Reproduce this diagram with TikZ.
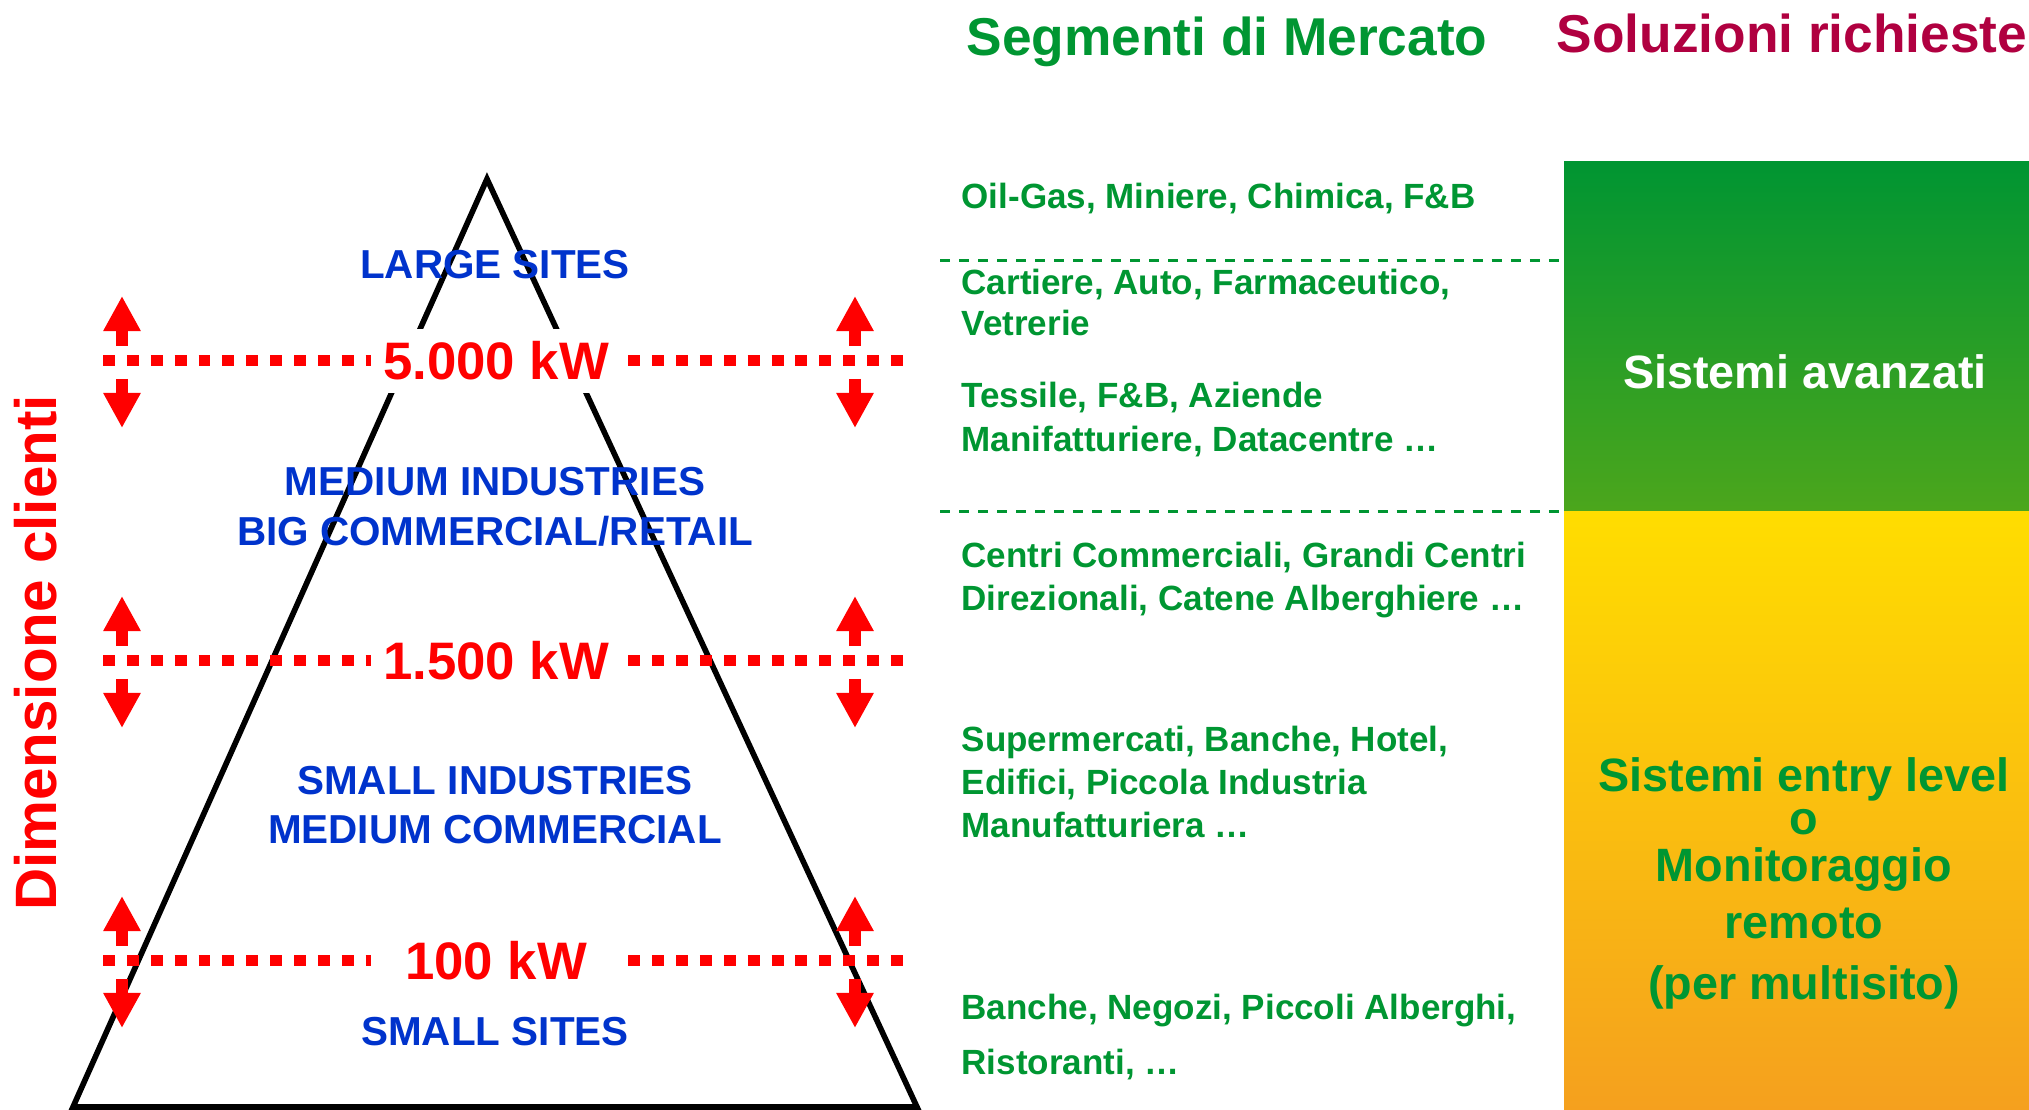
\documentclass[tikz,border=0pt]{standalone}
\usepackage{fontspec}
\setmainfont{Liberation Sans}
\usetikzlibrary{arrows.meta}
\definecolor{tgreen}{RGB}{0,150,50}
\definecolor{tblue}{RGB}{0,51,204}
\definecolor{tred}{RGB}{255,0,0}
\definecolor{tcrim}{RGB}{176,0,64}
\definecolor{gtop}{RGB}{0,149,50}
\definecolor{gbot}{RGB}{76,166,28}
\definecolor{ytop}{RGB}{255,221,0}
\definecolor{ybot}{RGB}{245,160,30}
\begin{document}
\begin{tikzpicture}[x=0.01cm,y=-0.01cm,
  seg/.style={font=\fontsize{9.96pt}{11.95pt}\selectfont\bfseries, text=tgreen, anchor=base west, inner sep=0pt},
  blu/.style={font=\fontsize{11.5pt}{14pt}\selectfont\bfseries, text=tblue, anchor=base, inner sep=0pt},
  kw/.style={font=\fontsize{15pt}{18pt}\selectfont\bfseries, text=tred, fill=white, text height=10.8pt, text depth=0pt, inner xsep=0pt, inner ysep=3.8pt, minimum width=2.5cm},
  title/.style={font=\fontsize{15.15pt}{18pt}\selectfont\bfseries, anchor=base, inner sep=0pt},
  sol/.style={font=\fontsize{13.3pt}{16pt}\selectfont\bfseries, anchor=base, inner sep=0pt},
  reddash/.style={tred, line width=3.13pt, dash pattern=on 3.4pt off 3.39pt},
  redarrow/.style={tred, line width=3.2pt, -{Triangle[length=0.35cm 0, width=0.35cm 0]}},
  greendash/.style={tgreen, line width=0.85pt, dash pattern=on 2.85pt off 2.56pt}
]
\useasboundingbox (0,0) rectangle (2029,1110);
% solution boxes
\shade[top color=gtop, bottom color=gbot] (1564,162) rectangle (2029,512);
\shade[top color=ytop, bottom color=ybot] (1564,512) rectangle (2029,1110);
% green dashed separators
\coordinate (g1a) at (940,261); \coordinate (g1b) at (1564,261);
\coordinate (g2a) at (940,512); \coordinate (g2b) at (1564,512);
\draw[greendash] (g1a) -- (g1b);
\draw[greendash] (g2a) -- (g2b);
% pyramid
\coordinate (apex) at (487,179);
\coordinate (bl) at (73,1107);
\coordinate (br) at (917,1107);
\draw[line width=1.6pt, line join=miter] (apex) -- (bl) -- (br) -- cycle;
% red dashed thresholds
\foreach \y/\n in {361/a,661/b,961/c}{
  \coordinate (L\n) at (103,\y); \coordinate (R\n) at (903,\y);
  \draw[reddash] (L\n) -- (R\n);
  \coordinate (lu1\n) at (122,\y-15); \coordinate (lu2\n) at (122,\y-65);
  \coordinate (ld1\n) at (122,\y+18); \coordinate (ld2\n) at (122,\y+67);
  \coordinate (ru1\n) at (855,\y-15); \coordinate (ru2\n) at (855,\y-65);
  \coordinate (rd1\n) at (855,\y+18); \coordinate (rd2\n) at (855,\y+67);
  \draw[redarrow] (lu1\n) -- (lu2\n);
  \draw[redarrow] (ld1\n) -- (ld2\n);
  \draw[redarrow] (ru1\n) -- (ru2\n);
  \draw[redarrow] (rd1\n) -- (rd2\n);
}
\node[kw] (kwa) at (496,361) {5.000 kW};
\node[kw] (kwb) at (496,661) {1.500 kW};
\node[kw] (kwc) at (496,961) {100 kW};
% blue categories
\node[blu] (large) at (495,278.5) {LARGE SITES};
\node[blu] (med1) at (495,495.5) {MEDIUM INDUSTRIES};
\node[blu] (med2) at (495,545.5) {BIG COMMERCIAL/RETAIL};
\node[blu] (sm1) at (495,794.5) {SMALL INDUSTRIES};
\node[blu] (sm2) at (495,843.5) {MEDIUM COMMERCIAL};
\node[blu] (small) at (495,1045.5) {SMALL SITES};
% vertical label
\node[rotate=90, font=\fontsize{16.6pt}{20pt}\selectfont\bfseries, text=tred, inner sep=0pt] (dim) at (36,653) {Dimensione clienti};
% titles
\node[title, text=tgreen] (t1) at (1227,56) {Segmenti di Mercato};
\node[title, text=tcrim] (t2) at (1792,53) {Soluzioni richieste};
% segments
\node[seg] (s1) at (961,209) {Oil-Gas, Miniere, Chimica, F\&B};
\node[seg] (s2) at (961,294.5) {Cartiere, Auto, Farmaceutico,};
\node[seg] (s3) at (961,335.5) {Vetrerie};
\node[seg] (s4) at (961,407.5) {Tessile, F\&B, Aziende};
\node[seg] (s5) at (961,451.5) {Manifatturiere, Datacentre …};
\node[seg] (s6) at (961,568) {Centri Commerciali, Grandi Centri};
\node[seg] (s7) at (961,611) {Direzionali, Catene Alberghiere …};
\node[seg] (s8) at (961,752) {Supermercati, Banche, Hotel,};
\node[seg] (s9) at (961,795) {Edifici, Piccola Industria};
\node[seg] (s10) at (961,838) {Manufatturiera …};
\node[seg] (s11) at (961,1019.5) {Banche, Negozi, Piccoli Alberghi,};
\node[seg] (s12) at (961,1074.5) {Ristoranti, …};
% solutions
\node[sol, text=white] (adv) at (1805,389) {Sistemi avanzati};
\node[sol, text=tgreen] (e1) at (1804,792) {Sistemi entry level};
\node[sol, text=tgreen] (e2) at (1804,835) {o};
\node[sol, text=tgreen] (e3) at (1804,882) {Monitoraggio};
\node[sol, text=tgreen] (e4) at (1804,939) {remoto};
\node[sol, text=tgreen] (e5) at (1804,1000) {(per multisito)};
\end{tikzpicture}
\end{document}
